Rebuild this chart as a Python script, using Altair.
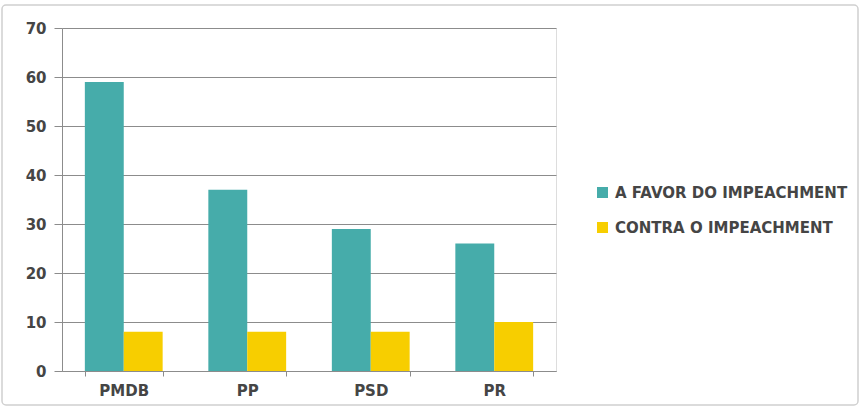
import altair as alt
import pandas as pd

partidos = ["PMDB", "PP", "PSD", "PR"]
series = ["A FAVOR DO IMPEACHMENT", "CONTRA O IMPEACHMENT"]
a_favor = [59, 37, 29, 26]
contra = [8, 8, 8, 10]
y_ticks = [0, 10, 20, 30, 40, 50, 60, 70]
cores = ["#46ACAA", "#F7CE00"]

rows = []
for p, a, c in zip(partidos, a_favor, contra):
    rows.append({"partido": p, "serie": series[0], "valor": a})
    rows.append({"partido": p, "serie": series[1], "valor": c})
df = pd.DataFrame(rows)

FONT = "DejaVu Sans"
TXT = "#454545"
FS = 15
W, H = 494, 343

bars = alt.Chart(df).mark_bar().encode(
    x=alt.X("partido:N", sort=partidos, title=None,
            scale=alt.Scale(paddingInner=0.37, paddingOuter=0.185),
            axis=alt.Axis(labelAngle=0, labelFontSize=FS, labelColor=TXT,
                          labelFont=FONT, labelFontWeight="bold",
                          labelPadding=7, tickBand="extent",
                          tickColor="#8c8c8c", tickSize=5, domainColor="#8c8c8c",
                          grid=False)),
    xOffset=alt.XOffset("serie:N", sort=series,
                        scale=alt.Scale(paddingInner=0, paddingOuter=0)),
    y=alt.Y("valor:Q", title=None,
            scale=alt.Scale(domain=[0, 70], nice=False),
            axis=alt.Axis(values=y_ticks, labelFontSize=FS, labelColor=TXT,
                          labelFont=FONT, labelFontWeight="bold",
                          labelPadding=8, gridColor="#8c8c8c",
                          gridWidth=1, tickColor="#8c8c8c", tickSize=8,
                          domainColor="#8c8c8c")),
    color=alt.Color("serie:N", sort=series, title=None,
                    scale=alt.Scale(domain=series, range=cores),
                    legend=alt.Legend(orient="none", legendX=533, legendY=157,
                                      symbolType="square", symbolSize=121,
                                      symbolStrokeWidth=0, labelLimit=0,
                                      labelFontSize=FS, labelColor=TXT,
                                      labelFont=FONT, labelFontWeight="bold",
                                      rowPadding=19, labelOffset=5)),
)

frame = alt.Chart(pd.DataFrame({"k": [0]})).mark_rect(
    fill=None, stroke="#d0d0d0", strokeWidth=1.5, cornerRadius=4
).encode(x=alt.value(-60), x2=alt.value(796), y=alt.value(-23), y2=alt.value(377))

chart = alt.layer(frame, bars).properties(
    width=W, height=H,
    autosize=alt.AutoSizeParams(type="none"),
    padding={"left": 62, "top": 28, "right": 304, "bottom": 37},
).configure_view(stroke=None).configure(background="white")

chart.save("out.html", embed_options={"renderer": "svg", "actions": False})
